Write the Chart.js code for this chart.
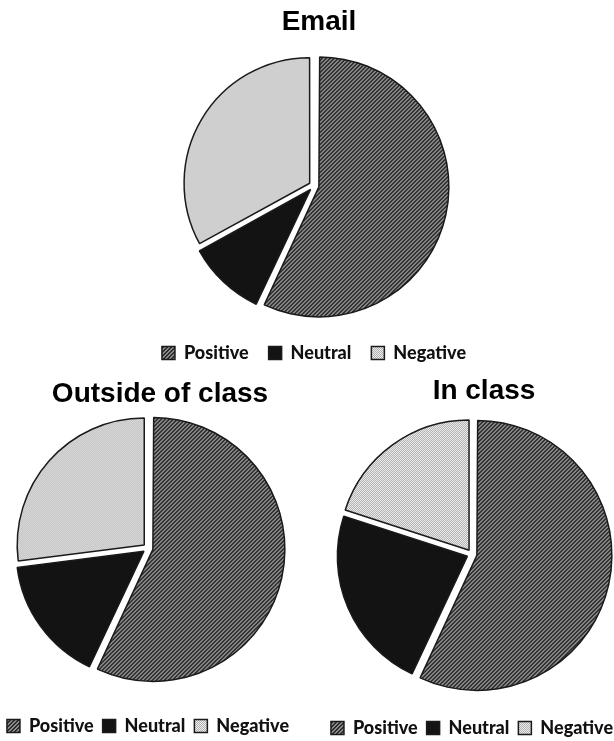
<!DOCTYPE html>
<html>
<head>
<meta charset="utf-8">
<script src="https://cdn.jsdelivr.net/npm/chart.js@4.4.0/dist/chart.umd.min.js"></script>
<style>
    html, body { margin: 0; padding: 0; background: #fff; width: 614px; height: 741px; overflow: hidden; position: relative; }
    .caixa { position: absolute; }
</style>
</head>
<body>
<div class="caixa" style="left:14px; top:0; width:600px; height:372px;"><canvas id="graficoEmail"></canvas></div>
<div class="caixa" style="left:-22px; top:360px; width:340px; height:385px;"><canvas id="graficoFora"></canvas></div>
<div class="caixa" style="left:302px; top:360px; width:340px; height:387px;"><canvas id="graficoAula"></canvas></div>
<script>
const categorias = ['Positive', 'Neutral', 'Negative'];
const valoresEmail = [57, 10, 33];
const valoresForaDaAula = [57, 16, 27];
const valoresNaAula = [57, 23, 20];

function criarPadrao(tipo) {
    const c = document.createElement('canvas');
    c.width = 4;
    c.height = 4;
    const ctx = c.getContext('2d');
    if (tipo === 'listras') {
        ctx.fillStyle = '#8c8c8c';
        ctx.fillRect(0, 0, 4, 4);
        ctx.fillStyle = '#2c2c2c';
        for (let y = 0; y < 4; y++) {
            for (let x = 0; x < 4; x++) {
                if ((x + y) % 4 === 3 || (x + y) % 4 === 0) ctx.fillRect(x, y, 1, 1);
            }
        }
    } else {
        ctx.fillStyle = '#eeeeee';
        ctx.fillRect(0, 0, 4, 4);
        ctx.fillStyle = '#b0b0b0';
        for (let y = 0; y < 4; y++) {
            for (let x = 0; x < 4; x++) {
                if ((x + y) % 2 === 0) ctx.fillRect(x, y, 1, 1);
            }
        }
    }
    return ctx.createPattern(c, 'repeat');
}

const padraoListras = criarPadrao('listras');
const padraoPontos = criarPadrao('pontos');

// empurra o titulo para o lado sem mexer na pizza
const deslocaTitulo = {
    id: 'deslocaTitulo',
    afterLayout(chart, args, opts) {
        const t = chart.titleBlock;
        if (t && opts.dx) {
            t.left += opts.dx;
            t.right += opts.dx;
        }
    }
};

function criarPizza(id, titulo, valores, opcoes) {
    const ctx = document.getElementById(id).getContext('2d');
    return new Chart(ctx, {
        type: 'pie',
        data: {
            labels: categorias,
            datasets: [{
                data: valores,
                backgroundColor: [padraoListras, '#131313', padraoPontos],
                borderColor: '#1a1a1a',
                borderWidth: 1.5,
                offset: 20
            }]
        },
        options: {
            responsive: true,
            maintainAspectRatio: false,
            animation: false,
            events: [],
            radius: opcoes.raio,
            plugins: {
                title: {
                    display: true,
                    text: titulo,
                    color: '#000',
                    font: { family: 'Liberation Sans', size: 28, weight: 'bold' },
                    padding: opcoes.paddingTitulo
                },
                legend: {
                    position: 'bottom',
                    labels: {
                        boxWidth: 13,
                        boxHeight: 13,
                        padding: opcoes.paddingLegenda,
                        color: '#111',
                        font: { family: 'Lato', size: 18, weight: 900 }
                    }
                },
                tooltip: { enabled: false },
                deslocaTitulo: { dx: opcoes.dx }
            }
        },
        plugins: [deslocaTitulo]
    });
}

criarPizza('graficoEmail', 'Email', valoresEmail, {
    raio: 125, paddingTitulo: { top: 5, bottom: 9 }, paddingLegenda: 20, dx: 5
});
criarPizza('graficoFora', 'Outside of class', valoresForaDaAula, {
    raio: 127, paddingTitulo: { top: 17, bottom: -22 }, paddingLegenda: 9, dx: 12
});
criarPizza('graficoAula', 'In class', valoresNaAula, {
    raio: 130, paddingTitulo: { top: 14, bottom: -9 }, paddingLegenda: 9, dx: 12
});
</script>
</body>
</html>
